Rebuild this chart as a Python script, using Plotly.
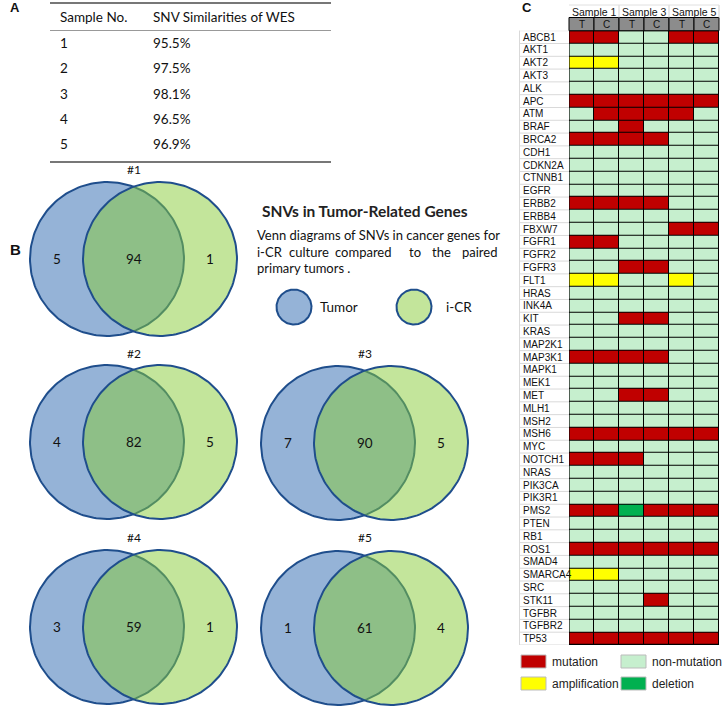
import numpy as np
import plotly.graph_objects as go

W, H = 722, 706

# ---------------- data ----------------
sample_no = ["1", "2", "3", "4", "5"]
similarity = ["95.5%", "97.5%", "98.1%", "96.5%", "96.9%"]

venn_names = ["#1", "#2", "#3", "#4", "#5"]
tumor_only = [5, 4, 7, 3, 1]
shared = [94, 82, 90, 59, 61]
icr_only = [1, 5, 5, 1, 4]

genes = ["ABCB1", "AKT1", "AKT2", "AKT3", "ALK", "APC", "ATM", "BRAF", "BRCA2", "CDH1",
         "CDKN2A", "CTNNB1", "EGFR", "ERBB2", "ERBB4", "FBXW7", "FGFR1", "FGFR2", "FGFR3",
         "FLT1", "HRAS", "INK4A", "KIT", "KRAS", "MAP2K1", "MAP3K1", "MAPK1", "MEK1", "MET",
         "MLH1", "MSH2", "MSH6", "MYC", "NOTCH1", "NRAS", "PIK3CA", "PIK3R1", "PMS2", "PTEN",
         "RB1", "ROS1", "SMAD4", "SMARCA4", "SRC", "STK11", "TGFBR", "TGFBR2", "TP53"]
samples = ["Sample 1", "Sample 3", "Sample 5"]
columns = ["S1 T", "S1 C", "S3 T", "S3 C", "S5 T", "S5 C"]
col_short = ["T", "C", "T", "C", "T", "C"]
# 0 non-mutation, 1 mutation, 2 amplification, 3 deletion
status = {
    "ABCB1": [1, 1, 0, 0, 1, 1], "AKT2": [2, 2, 0, 0, 0, 0], "APC": [1, 1, 1, 1, 1, 1],
    "ATM": [0, 1, 1, 1, 1, 0], "BRAF": [0, 0, 1, 0, 0, 0], "BRCA2": [1, 1, 1, 1, 0, 0],
    "ERBB2": [1, 1, 1, 1, 0, 0], "FBXW7": [0, 0, 0, 0, 1, 1], "FGFR1": [1, 1, 0, 0, 0, 0],
    "FGFR3": [0, 0, 1, 1, 0, 0], "FLT1": [2, 2, 0, 0, 2, 0], "KIT": [0, 0, 1, 1, 0, 0],
    "MAP3K1": [1, 1, 1, 1, 0, 0], "MET": [0, 0, 1, 1, 0, 0], "MSH6": [1, 1, 1, 1, 1, 1],
    "NOTCH1": [1, 1, 1, 0, 0, 0], "PMS2": [1, 1, 3, 1, 1, 1], "ROS1": [1, 1, 1, 1, 1, 1],
    "SMARCA4": [2, 2, 0, 0, 0, 0], "STK11": [0, 0, 0, 1, 0, 0], "TP53": [1, 1, 1, 1, 1, 1],
}
status_names = ["non-mutation", "mutation", "amplification", "deletion"]
status_colors = ["#C6EFCE", "#C00000", "#FFFF00", "#00B050"]

z = [status.get(g, [0] * 6) for g in genes]

# ---------------- helpers ----------------
def px(x):
    return x / W

def py(y):
    return 1 - y / H

SANS = "Lato, Calibri, 'Open Sans', sans-serif"
ARIAL = "Arial, 'Liberation Sans', sans-serif"

fig = go.Figure()
annotations = []
shapes = []

def text(x, y, s, size=13, font=SANS, anchor="center", color="#111", bold=False):
    if bold:
        s = "<b>" + s + "</b>"
    annotations.append(dict(x=px(x), y=py(y), xref="paper", yref="paper", text=s,
                            showarrow=False, xanchor=anchor, yanchor="middle",
                            font=dict(size=size, family=font, color=color)))

# ---------------- heatmap (panel C) ----------------
hx0, hx1 = 569, 719
hy0, hy1 = 30.7, 645
nz = len(status_colors)
cs = []
for i, c in enumerate(status_colors):
    cs.append([i / nz, c])
    cs.append([(i + 1) / nz, c])
fig.add_trace(go.Heatmap(z=z, x=columns, y=genes, colorscale=cs, zmin=-0.5, zmax=nz - 0.5,
                         xgap=1, ygap=1, showscale=False, xaxis="x", yaxis="y",
                         hoverinfo="skip"))
fig.update_layout(
    xaxis=dict(domain=[px(hx0), px(hx1)], visible=False, range=[-0.5, 5.5], fixedrange=True),
    yaxis=dict(domain=[py(hy1), py(hy0)], visible=False, autorange=False,
               range=[len(genes) - 0.5, -0.5], fixedrange=True),
)
# black grid backdrop
shapes.append(dict(type="rect", xref="x", yref="y", x0=-0.5, x1=5.5, y0=-0.5,
                   y1=len(genes) - 0.5, fillcolor="black", line=dict(width=0), layer="below"))
shapes.append(dict(type="rect", xref="x", yref="y", x0=-0.5, x1=5.5, y0=-0.5,
                   y1=len(genes) - 0.5, line=dict(color="black", width=1.2)))
# gene labels and faint row lines
for i, g in enumerate(genes):
    annotations.append(dict(x=px(521), y=g, xref="paper", yref="y", text=g, showarrow=False,
                            xanchor="left", yanchor="middle",
                            font=dict(size=10, family=ARIAL, color="#111")))
    shapes.append(dict(type="line", xref="paper", yref="y", x0=px(519), x1=px(hx0),
                       y0=i + 0.5, y1=i + 0.5, line=dict(color="#D9D9D9", width=1)))
shapes.append(dict(type="line", xref="paper", yref="y", x0=px(519), x1=px(hx0),
                   y0=-0.5, y1=-0.5, line=dict(color="#D9D9D9", width=1)))
shapes.append(dict(type="line", xref="paper", yref="paper", x0=px(519.5), x1=px(519.5),
                   y0=py(hy1), y1=py(hy0), line=dict(color="#D9D9D9", width=1)))
# header
cw = (hx1 - hx0) / 6
for j, s in enumerate(samples):
    text(hx0 + cw * (2 * j + 1), 11.5, s, size=10.5, font=ARIAL)
for j in range(6):
    shapes.append(dict(type="rect", xref="paper", yref="paper", x0=px(hx0 + j * cw),
                       x1=px(hx0 + (j + 1) * cw), y0=py(30.7), y1=py(17.5),
                       fillcolor="#8C8C8C", line=dict(color="black", width=1)))
    text(hx0 + (j + 0.5) * cw, 24, col_short[j], size=10, font=ARIAL)
for xv in [hx0 + 2 * cw, hx0 + 4 * cw, hx1]:
    shapes.append(dict(type="line", xref="paper", yref="paper", x0=px(xv), x1=px(xv),
                       y0=py(17.5), y1=py(5), line=dict(color="#D0D0D0", width=1)))
shapes.append(dict(type="line", xref="paper", yref="paper", x0=px(hx0), x1=px(hx1),
                   y0=py(5), y1=py(5), line=dict(color="#E0E0E0", width=1)))
# legend
leg = [(0, 521, 661.5), (1, 621, 661.5), (2, 521, 683.5), (3, 621, 683.5)]
order = [1, 0, 2, 3]
for k, (slot, lx, ly) in enumerate(leg):
    idx = order[k]
    shapes.append(dict(type="rect", xref="paper", yref="paper", x0=px(lx), x1=px(lx + 25),
                       y0=py(ly + 6.5), y1=py(ly - 6.5), fillcolor=status_colors[idx],
                       line=dict(color="#BBBBBB", width=1)))
    text(lx + 29, ly, status_names[idx], size=12, font=ARIAL, anchor="left", color="#222")
text(520, 8, "C", size=13, font=ARIAL, anchor="left", bold=True)

# ---------------- panel A table ----------------
text(8, 7, "A", size=13, font=ARIAL, anchor="left", bold=True)
shapes.append(dict(type="line", xref="paper", yref="paper", x0=px(50), x1=px(331),
                   y0=py(3), y1=py(3), line=dict(color="#777", width=2)))
shapes.append(dict(type="line", xref="paper", yref="paper", x0=px(50), x1=px(331),
                   y0=py(30.5), y1=py(30.5), line=dict(color="#999", width=1)))
shapes.append(dict(type="line", xref="paper", yref="paper", x0=px(50), x1=px(331),
                   y0=py(162), y1=py(162), line=dict(color="#777", width=2)))
text(58, 17, "Sample No.", size=13.5, anchor="left")
text(151, 17, "SNV Similarities of WES", size=13.5, anchor="left")
row_y = [43, 68.5, 94, 119, 143.5]
for s, v, yy in zip(sample_no, similarity, row_y):
    text(58, yy, s, size=13.5, anchor="left")
    text(151, yy, v, size=13.5, anchor="left")

# ---------------- panel B Venn ----------------
fig.update_layout(
    xaxis2=dict(domain=[0, 1], range=[0, W], visible=False, fixedrange=True),
    yaxis2=dict(domain=[0, 1], range=[H, 0], visible=False, fixedrange=True),
)
BLUE = "#95B3D7"
GREEN = "rgba(135,203,55,0.5)"
EDGE = "#1F4E8C"
theta = np.linspace(0, 2 * np.pi, 181)

def circle(cx, cy, r, fill):
    fig.add_trace(go.Scatter(x=cx + r * np.cos(theta), y=cy + r * np.sin(theta), mode="lines",
                             fill="toself", fillcolor=fill, line=dict(color=EDGE, width=2),
                             xaxis="x2", yaxis="y2", hoverinfo="skip", showlegend=False))

venn_pos = [(107, 259), (107, 442), (338, 443), (107, 627), (338, 628)]
title_y = [169, 353, 353, 537, 537]
R = 77
D = 53
for name, a, b, c, (cx, cy), ty in zip(venn_names, tumor_only, shared, icr_only, venn_pos, title_y):
    circle(cx, cy, R, BLUE)
    circle(cx + D, cy, R, GREEN)
    text(cx + D / 2, ty, name, size=12)
    text(cx - 50, cy, str(a), size=13.5)
    text(cx + D / 2, cy, str(b), size=13.5)
    text(cx + D + 50, cy, str(c), size=13.5)

text(8, 250, "B", size=15, font=ARIAL, anchor="left", bold=True)

# description
text(260, 211, "SNVs in Tumor-Related Genes", size=15.5, anchor="left", color="#222", bold=True)
text(255, 235, "Venn diagrams of SNVs in cancer genes for", size=13, anchor="left")
for wrd, wx in [("i-CR", 255), ("culture", 287), ("compared", 333), ("to", 407),
                ("the", 430), ("paired", 460)]:
    text(wx, 252, wrd, size=13, anchor="left")
text(255, 268, "primary tumors .", size=13, anchor="left")

# legend circles
circle(294, 307, 17.5, BLUE)
text(318, 307, "Tumor", size=13.5, anchor="left")
circle(414, 307, 17.5, GREEN)
text(444, 307, "i-CR", size=13.5, anchor="left")

fig.update_layout(
    width=W, height=H, margin=dict(l=0, r=0, t=0, b=0),
    paper_bgcolor="white", plot_bgcolor="rgba(0,0,0,0)",
    showlegend=False, annotations=annotations, shapes=shapes,
)
fig.write_html("out.html", config={"displayModeBar": False},
               post_script="document.body.style.margin='0';document.body.style.overflow='hidden';")
